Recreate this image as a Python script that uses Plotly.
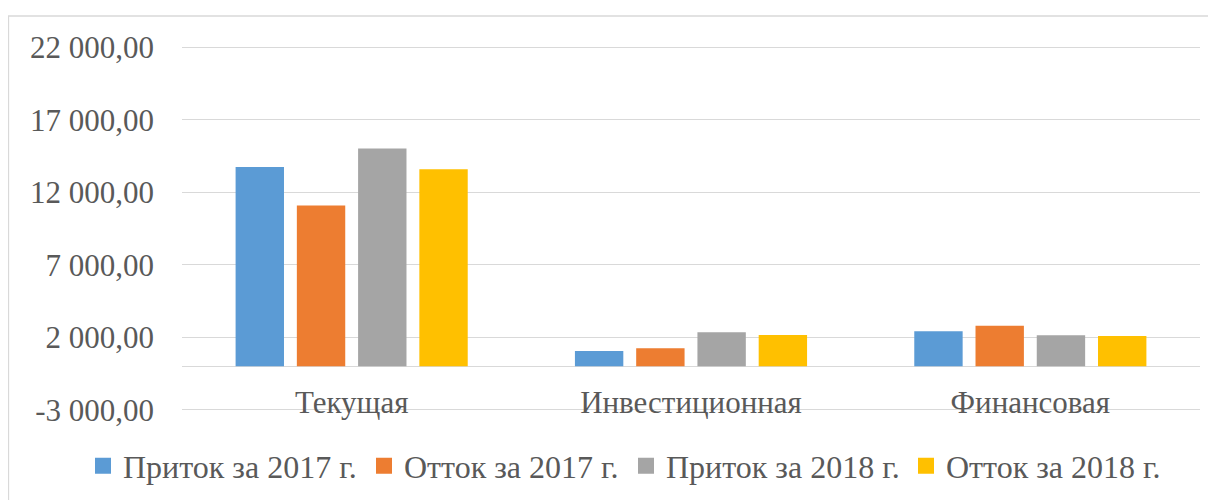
import plotly.graph_objects as go

categories = ["Текущая", "Инвестиционная", "Финансовая"]
series_names = ["Приток за 2017 г.", "Отток за 2017 г.", "Приток за 2018 г.", "Отток за 2018 г."]
inflow_2017 = [13740, 1060, 2415]
outflow_2017 = [11090, 1245, 2800]
inflow_2018 = [15010, 2350, 2140]
outflow_2018 = [13590, 2160, 2090]
tick_values = [-3000, 2000, 7000, 12000, 17000, 22000]
tick_labels = ["-3 000,00", "2 000,00", "7 000,00", "12 000,00", "17 000,00", "22 000,00"]

colors = ["#5B9BD5", "#ED7D31", "#A5A5A5", "#FFC000"]
series_values = [inflow_2017, outflow_2017, inflow_2018, outflow_2018]

FONT = "Liberation Serif"
TXT = "#595959"

# The page body has an 8px default margin, so the figure is drawn 8px smaller
# and all layout is expressed in screenshot (image) pixel coordinates.
OFF = 8
W, H = 1216, 500
L, R, T, B = 182, 16, 45, 88          # in image coordinates
pw, ph = W - L - R, H - T - B
ymin, ymax = -3150, 22150
zero_pos = (0 - ymin) / (ymax - ymin)


def px_x(p):
    return (p - L) / pw


def px_y(p):
    return ((T + ph) - p) / ph


legend_names = ["legend", "legend2", "legend3", "legend4"]
legend_square_left = [94, 375, 637, 917]

fig = go.Figure()
for name, vals, col, lg in zip(series_names, series_values, colors, legend_names):
    fig.add_trace(go.Bar(x=categories, y=vals, name=name, showlegend=False,
                         marker=dict(color=col, line=dict(width=0))))
    fig.add_trace(go.Scatter(x=[None], y=[None], mode="markers", name=name,
                             legend=lg, showlegend=True, hoverinfo="skip",
                             marker=dict(symbol="square", size=16, color=col,
                                         line=dict(width=0))))

legend_layout = {}
for lg, sq in zip(legend_names, legend_square_left):
    # plotly places the legend symbol centre 20px right of the legend's left edge
    legend_layout[lg] = dict(
        orientation="h", x=px_x(sq + 8 - 20 + 1), xanchor="left",
        y=px_y(466), yanchor="middle", bgcolor="rgba(0,0,0,0)",
        borderwidth=0, itemsizing="trace", itemclick=False,
        font=dict(family=FONT, size=32, color=TXT))

fig.update_layout(
    width=W - OFF, height=H - OFF,
    margin=dict(l=L - OFF, r=R, t=T - OFF, b=B, pad=0, autoexpand=False),
    paper_bgcolor="white", plot_bgcolor="white",
    barmode="group", bargap=0.278, bargroupgap=0.21,
    font=dict(family=FONT, size=31, color=TXT),
    showlegend=True,
    xaxis=dict(anchor="free", position=zero_pos, showline=False, ticks="",
               showgrid=False, zeroline=False, automargin=False,
               tickfont=dict(family=FONT, size=31, color=TXT),
               ticklabelstandoff=15),
    yaxis=dict(range=[ymin, ymax], tickvals=tick_values, ticktext=tick_labels,
               showgrid=True, gridcolor="#D9D9D9", gridwidth=1.3,
               zeroline=True, zerolinecolor="#D9D9D9", zerolinewidth=1.3,
               showline=False, ticks="", automargin=False,
               tickfont=dict(family=FONT, size=31, color=TXT),
               ticklabelstandoff=27),
    shapes=[dict(type="rect", xref="paper", yref="paper",
                 x0=px_x(8.5), x1=px_x(W + 10),
                 y0=px_y(H + 10), y1=px_y(16),
                 line=dict(color="#D9D9D9", width=1.3), fillcolor="rgba(0,0,0,0)",
                 layer="below")],
    **legend_layout,
)

fig.write_html("out.html")
